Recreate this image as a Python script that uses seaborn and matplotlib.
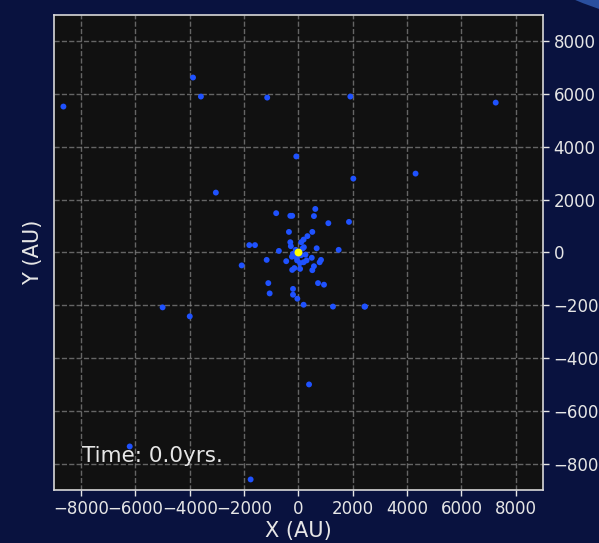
import numpy as np
import pandas as pd
import matplotlib
matplotlib.use("Agg")
import matplotlib.pyplot as plt
from matplotlib.patches import Ellipse
import seaborn as sns

# positions of the bodies at t = 0 (AU)
x_au = [-8650, -3880, -3590, -1150, 1910, 7260, -80, 2020, 4310, -3040,
        -5000, -4000, 2430, -6210, -1760, 390,
        620, -820, -300, -230, 570, 1100, 1860, -350, 510, 330, 190, 100,
        -300, -1810, -1600, -280, 200, 670, -720, 1480, -160, 260, -240,
        -60, 490, -1170, -450, 830, 780, 190, 60, -2090, -150, 570, -230,
        60, 510, -1110, 720, 940, -200, -1060, -200, -40, 190, 1270, 2450,
        -100, 100, -200, 150, -50, 300]
y_au = [5530, 6630, 5910, 5870, 5910, 5680, 3640, 2800, 2990, 2270,
        -2080, -2420, -2050, -7350, -8600, -5000,
        1650, 1490, 1390, 1390, 1380, 1110, 1160, 780, 780, 620, 490, 390,
        390, 280, 280, 240, 200, 160, 60, 100, -50, -80, -160,
        -200, -200, -280, -330, -280, -370, -370, -400, -490, -590, -520, -660,
        -620, -670, -1160, -1160, -1220, -1380, -1550, -1600, -1750, -1980, -2050, -2050,
        100, -100, -50, 150, -300, -300]
star_x = [0]
star_y = [0]
time_yrs = 0.0
ticks = [-8000, -6000, -4000, -2000, 0, 2000, 4000, 6000, 8000]

bg = "#09123f"
fg = "#e6e6e6"

sns.set_style("dark")
plt.rcParams["font.family"] = ["DejaVu Sans"]

fig = plt.figure(figsize=(5.99, 5.43), dpi=100, facecolor=bg)
# lighter arc peeking into the top right corner
fig.patches.append(Ellipse((1.1686, 1.5525), 1.085, 1.197, transform=fig.transFigure,
                           facecolor="#2a4f9e", edgecolor="none", zorder=0))
ax = fig.add_axes([0.090, 0.0976, 0.8165, 0.8748])
ax.set_facecolor("#111111")

df = pd.DataFrame({"x": x_au, "y": y_au})
sns.scatterplot(data=df, x="x", y="y", ax=ax, color="#1f52ff", s=18,
                edgecolor="none", zorder=3)
sns.scatterplot(x=star_x, y=star_y, ax=ax, color="#ffff00", s=32,
                edgecolor="none", zorder=4)

ax.set_xlim(-9000, 9000)
ax.set_ylim(-9000, 9000)
ax.set_xticks(ticks)
ax.set_yticks(ticks)
ax.yaxis.tick_right()
ax.yaxis.set_label_position("left")
ax.tick_params(colors=fg, labelsize=12, length=4, width=1, direction="out",
               bottom=True, right=True, left=False, top=False)
ax.grid(True, color="#8a8a8a", linestyle="--", linewidth=1, alpha=0.7)
for sp in ax.spines.values():
    sp.set_color("#d8d8d8")
    sp.set_linewidth(1.2)

ax.set_xlabel("X (AU)", color=fg, fontsize=15, labelpad=2)
ax.set_ylabel("Y (AU)", color=fg, fontsize=15, labelpad=8)
ax.text(0.057, 0.058, f"Time: {time_yrs}yrs.", transform=ax.transAxes,
        color=fg, fontsize=15.5, zorder=5)

fig.savefig("out.png", dpi=100, facecolor=bg)
